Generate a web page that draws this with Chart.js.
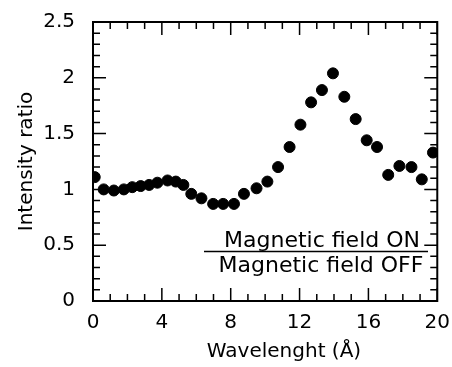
<!DOCTYPE html>
<html>
<head>
<meta charset="utf-8">
<script src="https://cdn.jsdelivr.net/npm/chart.js@4"></script>
<style>
  html, body { margin: 0; padding: 0; background: #fff; }
  #wrap { width: 452px; height: 367px; }
</style>
</head>
<body>
<div id="wrap"><canvas id="chart" width="452" height="367"></canvas></div>
<script>
// values
const wavelength = [0.1, 0.62, 1.21, 1.79, 2.28, 2.77, 3.26, 3.74, 4.33, 4.81, 5.25, 5.71, 6.3, 6.98, 7.56, 8.19, 8.77,
                    9.5, 10.13, 10.75, 11.42, 12.05, 12.67, 13.3, 13.94, 14.6, 15.26, 15.9, 16.5, 17.15, 17.8, 18.5, 19.1, 19.75];
const ratio = [1.11, 1.0, 0.99, 1.0, 1.02, 1.03, 1.04, 1.06, 1.08, 1.07, 1.04, 0.96, 0.92, 0.87, 0.87, 0.87, 0.96,
               1.01, 1.07, 1.2, 1.38, 1.58, 1.78, 1.89, 2.04, 1.83, 1.63, 1.44, 1.38, 1.13, 1.21, 1.2, 1.09, 1.33];
const xTickLabels = ['0', '4', '8', '12', '16', '20'];
const yTickLabels = ['0', '0.5', '1', '1.5', '2', '2.5'];
const xTitle = 'Wavelenght (Å)';
const yTitle = 'Intensity ratio';
const fracTop = 'Magnetic field ON';
const fracBottom = 'Magnetic field OFF';

const FONT = 'DejaVu Sans';

// frame, inward ticks, x title and the ON/OFF fraction
const extras = {
    id: 'extras',
    afterDraw(chart) {
        const ctx = chart.ctx;
        const a = chart.chartArea;
        const xs = chart.scales.x;
        const ys = chart.scales.y;
        ctx.save();
        ctx.strokeStyle = '#000';
        ctx.lineWidth = 1.5;
        ctx.beginPath();
        for (let i = 0; i <= 20; i++) {
            const px = xs.getPixelForValue(i);
            const len = i % 4 === 0 ? 13 : 7;
            ctx.moveTo(px, a.bottom); ctx.lineTo(px, a.bottom - len);
            ctx.moveTo(px, a.top); ctx.lineTo(px, a.top + len);
        }
        for (let i = 0; i <= 25; i++) {
            const py = ys.getPixelForValue(i / 10);
            const len = i % 5 === 0 ? 13 : 7;
            ctx.moveTo(a.left, py); ctx.lineTo(a.left + len, py);
            ctx.moveTo(a.right, py); ctx.lineTo(a.right - len, py);
        }
        ctx.stroke();

        ctx.lineWidth = 2;
        ctx.strokeRect(a.left, a.top, a.right - a.left, a.bottom - a.top);

        ctx.fillStyle = '#000';
        ctx.textAlign = 'center';
        ctx.textBaseline = 'alphabetic';
        ctx.font = '20px "' + FONT + '"';
        ctx.fillText(xTitle, 284, 357);

        ctx.font = '22px "' + FONT + '"';
        ctx.fillText(fracTop, 322, 247);
        ctx.fillText(fracBottom, 321, 272);
        ctx.lineWidth = 1.5;
        ctx.beginPath();
        ctx.moveTo(204, 251.5);
        ctx.lineTo(428, 251.5);
        ctx.stroke();
        ctx.restore();
    }
};

new Chart(document.getElementById('chart'), {
    type: 'scatter',
    data: {
        datasets: [{
            data: wavelength.map((x, i) => ({ x: x, y: ratio[i] })),
            backgroundColor: '#000',
            borderColor: '#000',
            pointRadius: 5.5,
            pointHoverRadius: 5.5
        }]
    },
    options: {
        responsive: false,
        animation: false,
        events: [],
        layout: { padding: { left: 0, top: 19, right: 14, bottom: 0 } },
        plugins: { legend: { display: false }, tooltip: { enabled: false } },
        scales: {
            x: {
                type: 'linear',
                min: 0, max: 20,
                afterFit: s => { s.height = 66; },
                grid: { display: false },
                border: { display: false },
                ticks: {
                    stepSize: 4,
                    autoSkip: false,
                    maxRotation: 0,
                    padding: 2,
                    color: '#000',
                    font: { family: FONT, size: 20 },
                    callback: v => xTickLabels[v / 4]
                }
            },
            y: {
                min: 0, max: 2.5,
                afterFit: s => { s.width = 93; },
                grid: { display: false },
                border: { display: false },
                ticks: {
                    stepSize: 0.5,
                    padding: 10,
                    color: '#000',
                    font: { family: FONT, size: 20 },
                    callback: v => yTickLabels[Math.round(v * 2)]
                },
                title: {
                    display: true,
                    text: yTitle,
                    color: '#000',
                    font: { family: FONT, size: 20 },
                    padding: { top: 15, bottom: 0 }
                }
            }
        }
    },
    plugins: [extras]
});
</script>
</body>
</html>
